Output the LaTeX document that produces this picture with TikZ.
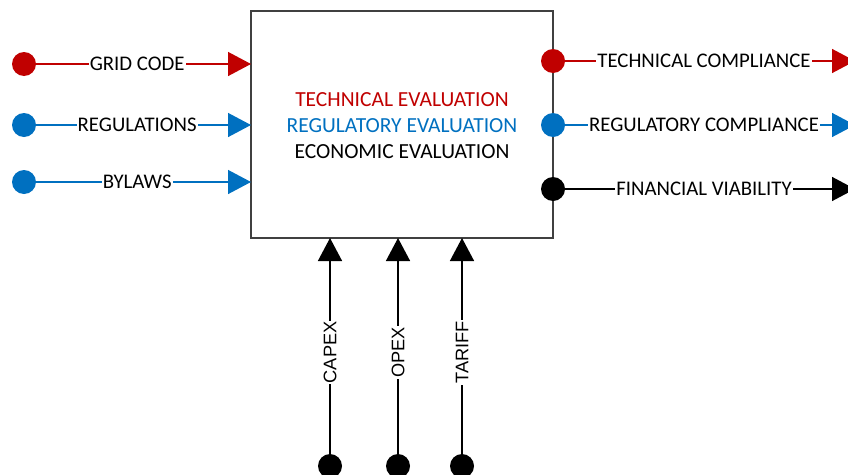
\documentclass[tikz,border=0pt]{standalone}
\usepackage{fontspec}
\setmainfont{Carlito}
\newfontfamily\arialfont{Liberation Sans}
\usetikzlibrary{arrows.meta}
\definecolor{cred}{HTML}{C00000}
\definecolor{cblue}{HTML}{0070C0}
\definecolor{boxgray}{HTML}{404040}
\begin{document}
\begin{tikzpicture}[x=1pt,y=-1pt,
  dot/.style={circle,fill=#1,inner sep=0pt,minimum size=24pt},
  flow/.style={draw=#1,line width=1.4pt,-{Triangle[length=23pt,width=24pt,fill=#1]}},
  lbl/.style={fill=white,inner sep=1pt,font=\fontsize{20.8}{24}\selectfont,text=black},
  vlbl/.style={fill=white,inner sep=1pt,rotate=90,font=\arialfont\fontsize{18.2}{21}\selectfont,text=black},
  inner/.style={font=\fontsize{21.5}{26}\selectfont,align=center}]
\useasboundingbox (0,0) rectangle (848,474);
\clip (0,0) rectangle (848,474);

% central activity box
\node[draw=boxgray,line width=1.2pt,minimum width=302pt,minimum height=227pt,inner sep=0pt] (box) at (402,124.5) {};
\node[inner] (txt) at (402,126) {\textcolor{cred}{TECHNICAL EVALUATION}\\\textcolor{cblue}{REGULATORY EVALUATION}\\ECONOMIC EVALUATION};

% inputs on the left
\coordinate (i1) at (251,64);
\coordinate (i2) at (251,125);
\coordinate (i3) at (251,182);
\node[dot=cred] (s1) at (24,64) {};
\node[dot=cblue] (s2) at (24,125) {};
\node[dot=cblue] (s3) at (24,182) {};
\draw[flow=cred] (s1) -- node[lbl,pos=0.47] {GRID CODE} (i1);
\draw[flow=cblue] (s2) -- node[lbl,pos=0.47] {REGULATIONS} (i2);
\draw[flow=cblue] (s3) -- node[lbl,pos=0.47] {BYLAWS} (i3);

% outputs on the right
\coordinate (o1) at (855,61);
\coordinate (o2) at (855,125);
\coordinate (o3) at (855,189);
\draw[flow=cred] (553,61) -- node[lbl] {TECHNICAL COMPLIANCE} (o1);
\draw[flow=cblue] (553,125) -- node[lbl] {REGULATORY COMPLIANCE} (o2);
\draw[flow=black] (553,189) -- node[lbl] {FINANCIAL VIABILITY} (o3);
\node[dot=cred] (r1) at (553,61) {};
\node[dot=cblue] (r2) at (553,125) {};
\node[dot=black] (r3) at (553,189) {};

% controls from below
\coordinate (b1) at (330,238);
\coordinate (b2) at (398,238);
\coordinate (b3) at (462,238);
\node[dot=black] (m1) at (330,466) {};
\node[dot=black] (m2) at (398,466) {};
\node[dot=black] (m3) at (462,466) {};
\draw[flow=black] (m1) -- node[vlbl,pos=0.47] {CAPEX} (b1);
\draw[flow=black] (m2) -- node[vlbl,pos=0.47] {OPEX} (b2);
\draw[flow=black] (m3) -- node[vlbl,pos=0.47] {TARIFF} (b3);
\end{tikzpicture}
\end{document}
